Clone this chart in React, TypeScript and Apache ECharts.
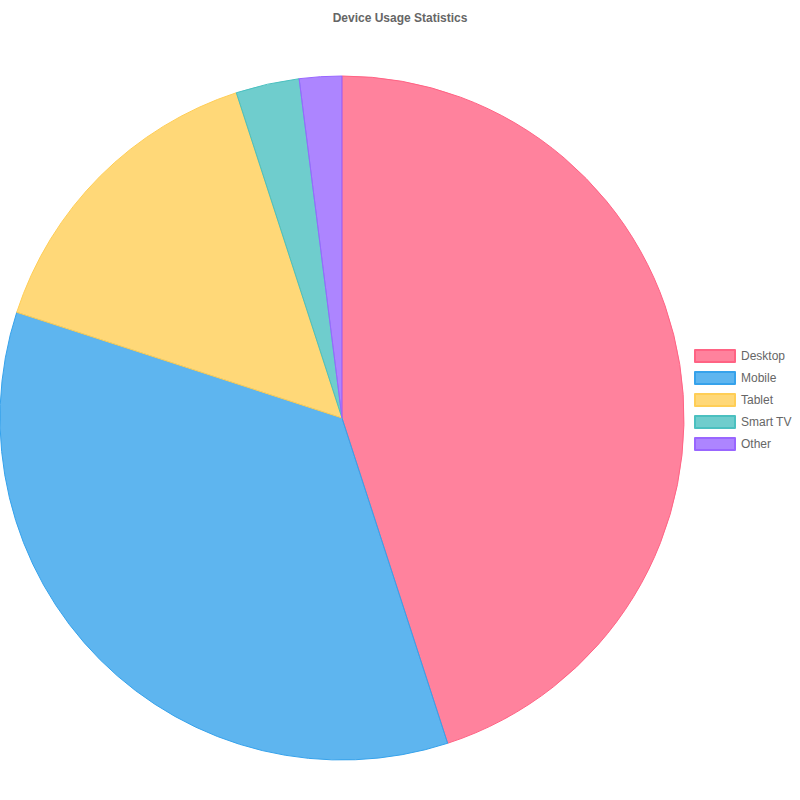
import React, { useEffect, useRef } from "react";
import * as echarts from "echarts";

const categories = ["Desktop", "Mobile", "Tablet", "Smart TV", "Other"];
const values = [45, 35, 15, 3, 2];
const fills = [
  "rgba(255,99,132,0.8)",
  "rgba(54,162,235,0.8)",
  "rgba(255,206,86,0.8)",
  "rgba(75,192,192,0.8)",
  "rgba(153,102,255,0.8)",
];
const borders = [
  "rgb(255,99,132)",
  "rgb(54,162,235)",
  "rgb(255,206,86)",
  "rgb(75,192,192)",
  "rgb(153,102,255)",
];

export default function App() {
  const ref = useRef<HTMLDivElement>(null);
  useEffect(() => {
    if (!ref.current) return;
    const chart = echarts.init(ref.current, null, { renderer: "svg" });
    chart.setOption({
      animation: false,
      title: {
        text: "Device Usage Statistics",
        left: "center",
        top: 7,
        textStyle: {
          fontFamily: "Liberation Sans, Arial, sans-serif",
          fontSize: 12,
          fontWeight: "bold",
          color: "#666",
        },
      },
      legend: {
        orient: "vertical",
        left: 694,
        top: 349,
        padding: 0,
        itemWidth: 40,
        itemHeight: 12,
        itemGap: 8,
        icon: "rect",
        textStyle: {
          fontFamily: "Liberation Sans, Arial, sans-serif",
          fontSize: 12,
          color: "#666",
          padding: [0, 0, 0, 1],
        },
        data: categories,
      },
      series: [
        {
          type: "pie",
          center: [342, 418],
          radius: 342,
          startAngle: 90,
          clockwise: true,
          label: { show: false },
          labelLine: { show: false },
          emphasis: { disabled: true },
          data: categories.map((c, i) => ({
            name: c,
            value: values[i],
            itemStyle: { color: fills[i], borderColor: borders[i], borderWidth: 1 },
          })),
        },
      ],
    });
    return () => chart.dispose();
  }, []);
  return (
    <div
      ref={ref}
      style={{ position: "absolute", left: 0, top: 0, width: 800, height: 800 }}
    />
  );
}
